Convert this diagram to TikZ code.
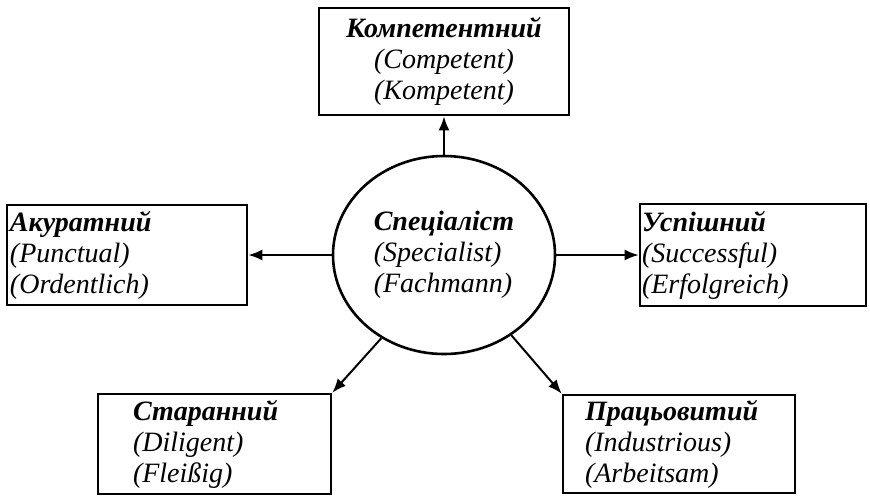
\documentclass[tikz,border=0pt]{standalone}
\usepackage{fontspec}
\setmainfont{Liberation Serif}
\usetikzlibrary{shapes.geometric,arrows.meta}
\hyphenpenalty=10000

\begin{document}
\begin{tikzpicture}[x=0.5pt,y=-0.5pt,
    trait/.style={draw,rectangle,line width=1.3pt,inner ysep=0pt,align=left,
      font=\fontsize{14}{15.5}\selectfont\itshape},
    link/.style={line width=1pt,-{Latex[length=7pt,width=5.5pt]}}]
 \useasboundingbox (0,0) rectangle (870,495);

    % centre
    \node (spec) [draw,ellipse,line width=1.3pt,inner sep=0pt,minimum width=111pt,minimum height=99pt,
      align=left,font=\fontsize{14}{15.5}\selectfont\itshape] at (444,255)
      {\textbf{Спеціаліст}\\(Specialist)\\(Fachmann)};

    % qualities round it
    \node (comp) [trait,align=center,text width=115pt,inner xsep=5pt,minimum height=53.5pt] at (444,61.5)
      {\textbf{Компетентний}\\(Competent)\\(Kompetent)};
    \node (acc) [trait,text width=117pt,inner xsep=1.5pt,minimum height=50pt] at (127,255)
      {\textbf{Акуратний}\\(Punctual)\\(Ordentlich)};
    \node (succ) [trait,text width=111pt,inner xsep=1pt,minimum height=51pt] at (753,255)
      {\textbf{Успішний}\\(Successful)\\(Erfolgreich)};
    \node (dili) [trait,text width=81.5pt,inner xsep=17.5pt,minimum height=50pt] at (214.5,444)
      {\textbf{Старанний}\\(Diligent)\\(Fleißig)};
    \node (indu) [trait,text width=94pt,inner xsep=11pt,minimum height=49pt] at (679,444)
      {\textbf{Працьовитий}\\(Industrious)\\(Arbeitsam)};

    % arrows
    \draw[link] (spec.north) -- (comp.south);
    \draw[link] (spec.west) -- (acc.east);
    \draw[link] (spec.east) -- (succ.west);
    \draw[link] (spec.233) -- (dili.north east);
    \draw[link] (spec.310) -- (indu.north west);

\end{tikzpicture}
\end{document}
